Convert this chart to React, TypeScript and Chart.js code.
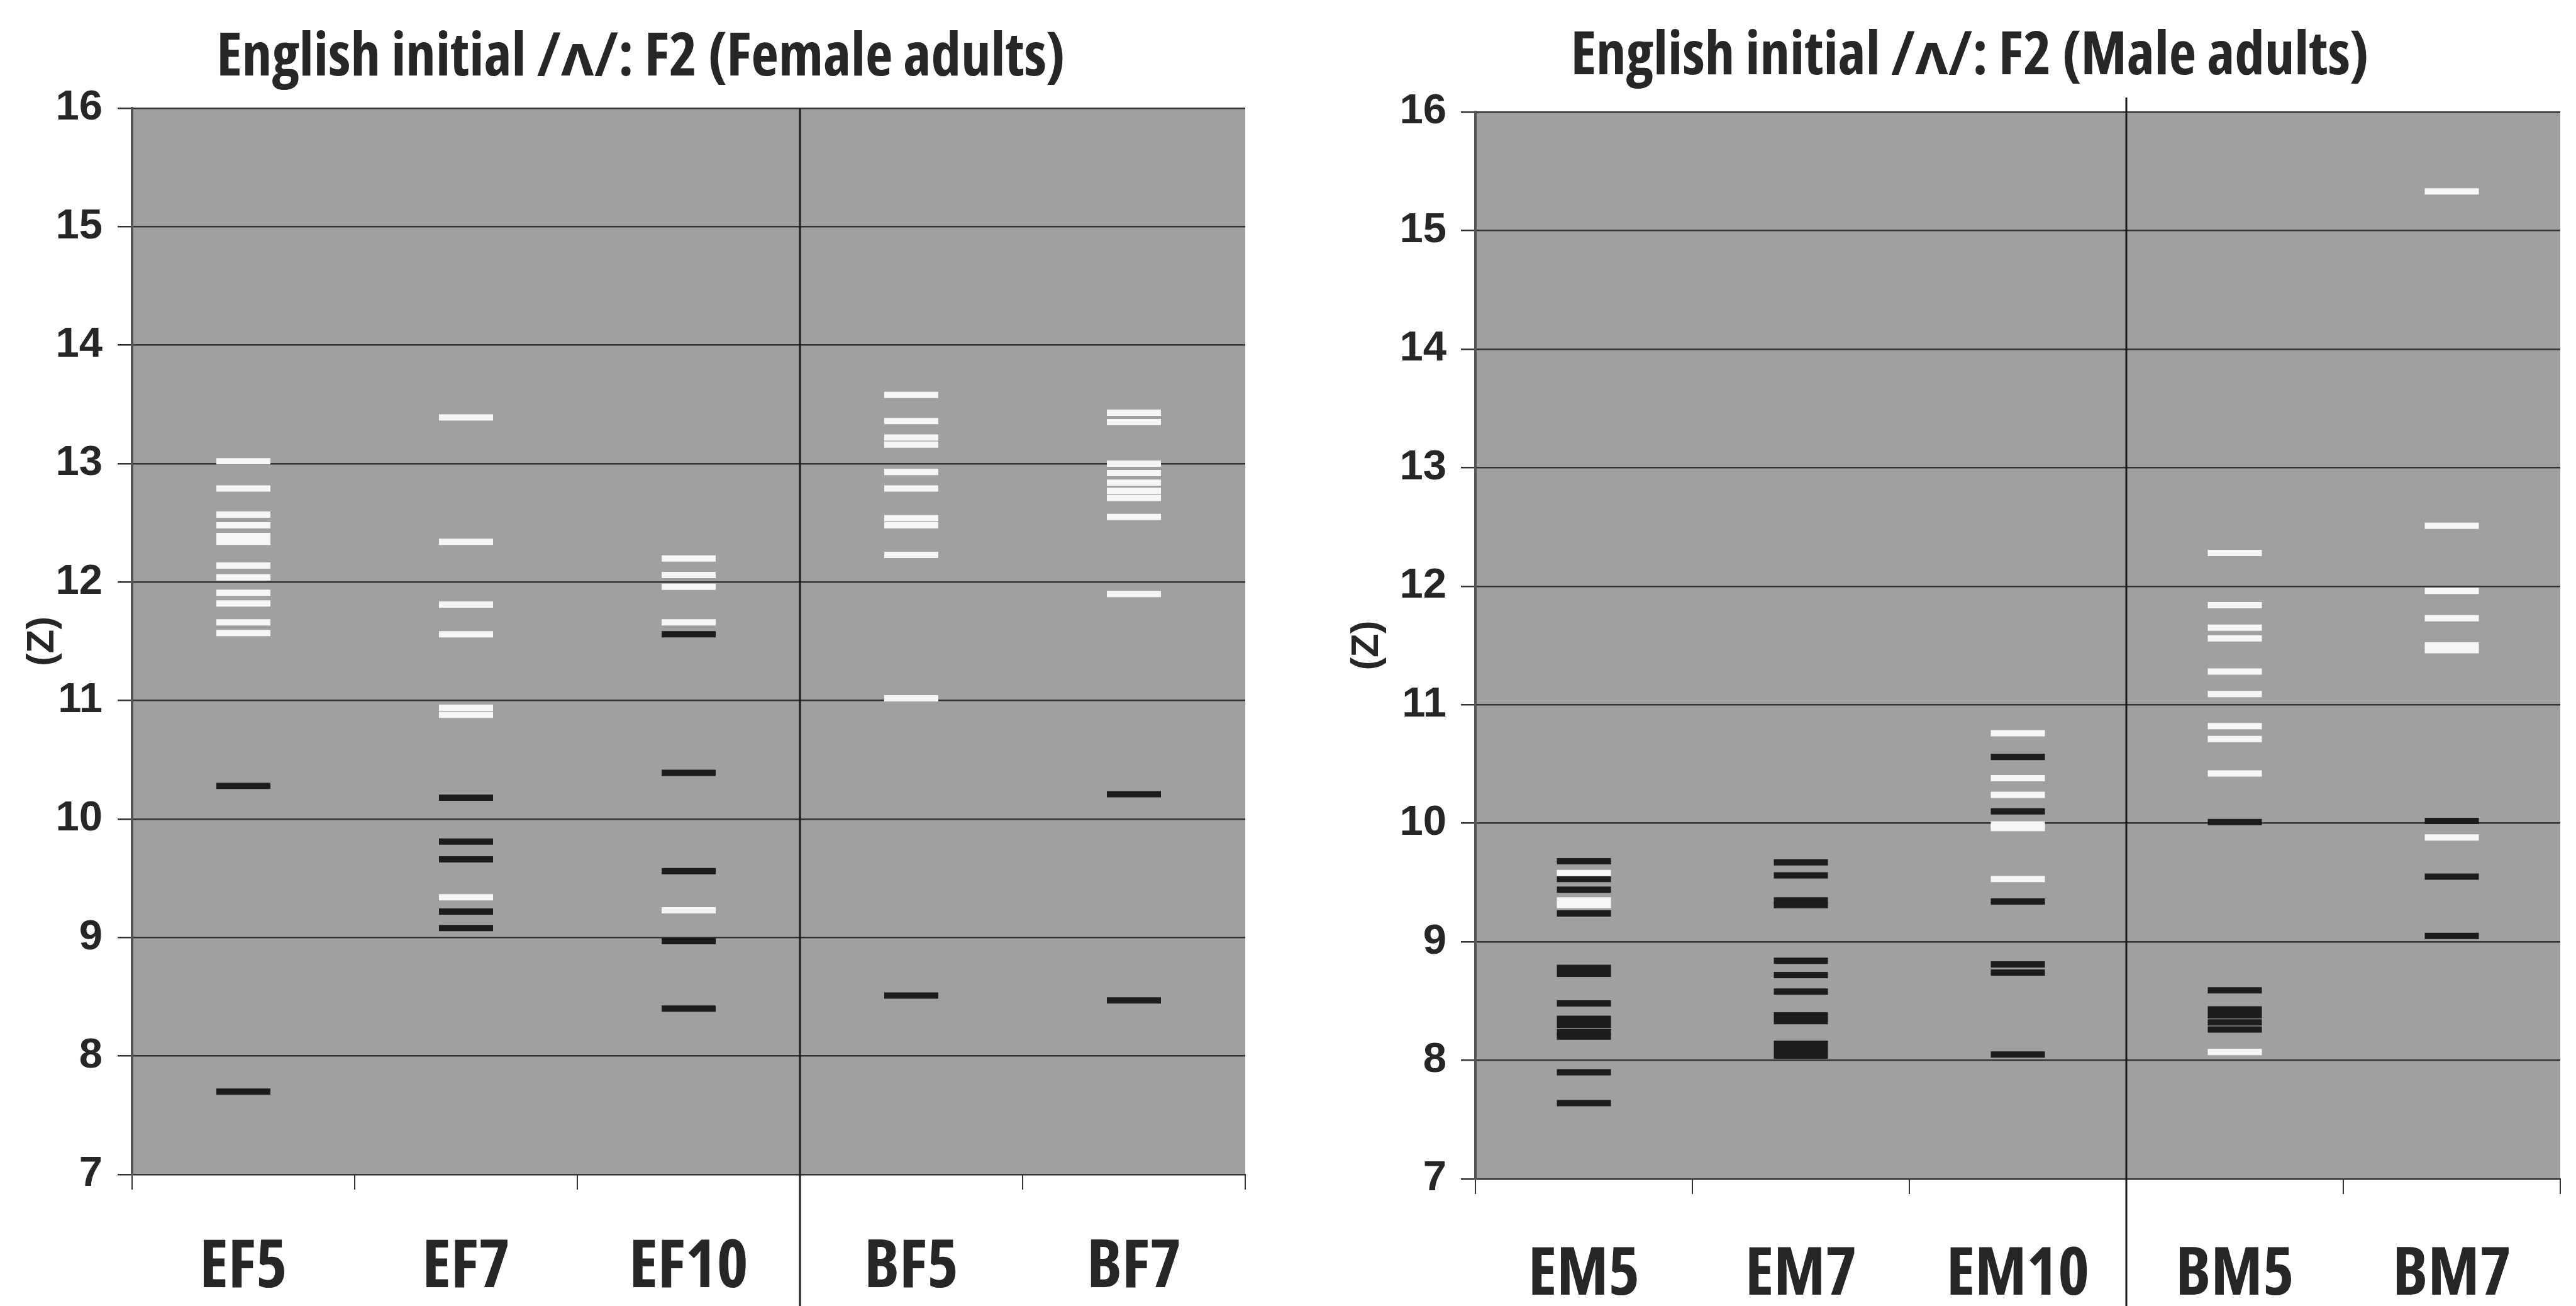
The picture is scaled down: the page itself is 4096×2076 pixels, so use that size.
import React, { useEffect, useRef } from 'react';
import { Chart, registerables } from 'chart.js';

Chart.register(...registerables);

// ---------- data ----------
const femaleCategories = ['EF5', 'EF7', 'EF10', 'BF5', 'BF7'];
const maleCategories = ['EM5', 'EM7', 'EM10', 'BM5', 'BM7'];
const yTickMin = 7;
const yTickMax = 16;

const EF5_white = [13.02, 12.79, 12.57, 12.48, 12.39, 12.34, 12.14, 12.04, 11.91, 11.82, 11.66, 11.57];
const EF5_black = [10.28, 7.7];
const EF7_white = [13.39, 12.34, 11.81, 11.56, 10.94, 10.88, 9.34];
const EF7_black = [10.18, 9.81, 9.66, 9.22, 9.08];
const EF10_white = [12.2, 12.06, 11.96, 11.66, 9.23];
const EF10_black = [11.56, 10.39, 9.56, 8.97, 8.4];
const BF5_white = [13.58, 13.36, 13.22, 13.16, 12.93, 12.79, 12.54, 12.48, 12.23, 11.02];
const BF5_black = [8.51];
const BF7_white = [13.43, 13.35, 13.0, 12.92, 12.84, 12.77, 12.71, 12.55, 11.9];
const BF7_black = [10.21, 8.47];

const EM5_white = [9.58, 9.35, 9.31];
const EM5_black = [9.68, 9.53, 9.44, 9.24, 8.78, 8.73, 8.48, 8.35, 8.3, 8.24, 8.2, 7.9, 7.64];
const EM7_white: number[] = [];
const EM7_black = [9.67, 9.56, 9.35, 9.31, 8.84, 8.72, 8.58, 8.38, 8.33, 8.14, 8.09, 8.04];
const EM10_white = [10.76, 10.38, 10.24, 9.99, 9.96, 9.53];
const EM10_black = [10.56, 10.1, 9.34, 8.81, 8.74, 8.05];
const BM5_white = [12.28, 11.84, 11.65, 11.56, 11.28, 11.09, 10.82, 10.71, 10.42, 8.07];
const BM5_black = [10.01, 8.59, 8.43, 8.38, 8.32, 8.26];
const BM7_white = [15.33, 12.51, 11.96, 11.73, 11.5, 11.46, 9.88];
const BM7_black = [10.02, 9.55, 9.05];

const femaleWhite = [EF5_white, EF7_white, EF10_white, BF5_white, BF7_white];
const femaleBlack = [EF5_black, EF7_black, EF10_black, BF5_black, BF7_black];
const maleWhite = [EM5_white, EM7_white, EM10_white, BM5_white, BM7_white];
const maleBlack = [EM5_black, EM7_black, EM10_black, BM5_black, BM7_black];

const femaleTitle = 'English initial /ʌ/: F2 (Female adults)';
const maleTitle = 'English initial /ʌ/: F2 (Male adults)';
const yAxisTitle = '(Z)';

// ---------- styles ----------
const FONT_BOLD = "'Liberation Sans', Arial, sans-serif";
const TEXT = '#262626';
const PLOT_BG = '#a0a0a0';
const GRID = '#333333';
const WHITE_DASH = '#f6f6f6';
const BLACK_DASH = '#1c1c1c';

const TITLE_WIDTH = 1354; // target rendered width of the female title
const TITLE_CAP = 67;
const XLABEL_FIT_TEXT = 'EF5EF10';
const XLABEL_FIT_WIDTH = 329; // target width of "EF5" + "EF10"
const XTICK_LEN = 24;

type FontPick = { weight: string; family: string };
const fontCandidates: FontPick[] = [
  { weight: 'bold', family: "'Liberation Sans Narrow'" },
  { weight: 'bold', family: "'Arial Narrow'" },
  { weight: 'extra-condensed bold', family: "'Noto Sans'" },
  { weight: 'condensed bold', family: "'Noto Sans'" },
  { weight: 'condensed bold', family: "'Open Sans'" },
  { weight: 'condensed bold', family: "'Roboto'" },
  { weight: 'condensed bold', family: "'DejaVu Sans'" },
  { weight: 'bold', family: "'DejaVu Sans Condensed'" },
];

type FontPlan = {
  weight: string;
  family: string;
  titleSize: number;
  titleMid: number; // distance from 'middle' baseline up to cap top
  xSize: number;
  xMid: number;
};

let cachedPlan: FontPlan | null = null;

function getFontPlan(): FontPlan {
  if (cachedPlan) return cachedPlan;
  const c = document.createElement('canvas');
  const ctx = c.getContext('2d') as CanvasRenderingContext2D;
  let best: any = null;
  for (const cand of fontCandidates) {
    ctx.font = '10px serif';
    const str = `${cand.weight} 100px ${cand.family}, monospace`;
    ctx.font = str;
    if (!ctx.font.includes('100px')) continue;
    ctx.textBaseline = 'alphabetic';
    const w = ctx.measureText(femaleTitle).width;
    const cap = ctx.measureText('E').actualBoundingBoxAscent / 100;
    ctx.font = `${cand.weight} 100px monospace`;
    const wMono = ctx.measureText(femaleTitle).width;
    if (Math.abs(w - wMono) < 0.5) continue;
    const size = (TITLE_WIDTH * 100) / w;
    const score = Math.abs(size * cap - TITLE_CAP);
    if (!best || score < best.score) best = { ...cand, score, size, str };
  }
  if (!best) {
    best = { weight: 'bold', family: "'DejaVu Sans Condensed'", size: 76 };
  }
  const fam = `${best.family}, sans-serif`;
  ctx.font = `${best.weight} ${best.size}px ${fam}`;
  ctx.textBaseline = 'middle';
  const titleMid = ctx.measureText('E').actualBoundingBoxAscent;
  ctx.font = `${best.weight} 100px ${fam}`;
  ctx.textBaseline = 'alphabetic';
  const wx = ctx.measureText(XLABEL_FIT_TEXT).width;
  const xSize = (XLABEL_FIT_WIDTH * 100) / wx;
  ctx.font = `${best.weight} ${xSize}px ${fam}`;
  ctx.textBaseline = 'middle';
  const xMid = ctx.measureText('E').actualBoundingBoxAscent;
  cachedPlan = { weight: best.weight, family: fam, titleSize: best.size, titleMid, xSize, xMid };
  return cachedPlan;
}

type Panel = {
  title: string;
  categories: string[];
  white: number[][];
  black: number[][];
  left: number;
  width: number;
  padL: number;
  padR: number;
  yAxisWidth: number;
  xAxisHeight: number;
  titleCapTop: number;
  areaTop: number;
  xCapTop: number;
  yTitlePadTop: number;
  yTickPad: number;
  dividerExtend: number;
};

const CANVAS_H = 2076;

const panels: Panel[] = [
  {
    title: femaleTitle, categories: femaleCategories, white: femaleWhite, black: femaleBlack,
    left: 0, width: 2100, padL: 58, padR: 120, yAxisWidth: 152, xAxisHeight: 209,
    titleCapTop: 52, areaTop: 172, xCapTop: 1970, yTitlePadTop: -27.2, yTickPad: 24, dividerExtend: 0,
  },
  {
    title: maleTitle, categories: maleCategories, white: maleWhite, black: maleBlack,
    left: 2130, width: 1994, padL: 36, padR: 26, yAxisWidth: 180, xAxisHeight: 202,
    titleCapTop: 50, areaTop: 178, xCapTop: 1982, yTitlePadTop: -29.2, yTickPad: 23, dividerExtend: 23,
  },
];

const decorPlugin = {
  id: 'panelDecor',
  beforeDraw(chart: any) {
    const { ctx, chartArea: a } = chart;
    ctx.save();
    ctx.fillStyle = PLOT_BG;
    ctx.fillRect(a.left, a.top, a.right - a.left, a.bottom - a.top);
    ctx.restore();
  },
  afterDatasetsDraw(chart: any, _args: any, opts: any) {
    const { ctx, chartArea: a } = chart;
    const xs = chart.scales.x;
    const px = (xs.getPixelForValue(2) + xs.getPixelForValue(3)) / 2;
    ctx.save();
    ctx.strokeStyle = '#1a1a1a';
    ctx.lineWidth = 3;
    ctx.beginPath();
    ctx.moveTo(px, a.top - (opts.dividerExtend || 0));
    ctx.lineTo(px, chart.height);
    ctx.stroke();
    ctx.restore();
  },
};

function toPoints(categories: string[], groups: number[][]) {
  const pts: { x: string; y: number }[] = [];
  categories.forEach((c, i) => groups[i].forEach((v) => pts.push({ x: c, y: v })));
  return pts;
}

function makeConfig(p: Panel, f: FontPlan): any {
  const titleLH = f.titleSize * 1.2;
  const titlePadTop = p.titleCapTop + f.titleMid - titleLH / 2;
  const titlePadBottom = p.areaTop - titleLH - titlePadTop;
  const areaBottom = CANVAS_H - p.xAxisHeight;
  const xLH = f.xSize * 1.2;
  const xTickPad = p.xCapTop + f.xMid - areaBottom - XTICK_LEN - xLH / 2;

  const dashStyle = {
    type: 'line',
    showLine: false,
    pointStyle: 'line',
    pointRadius: 43,
    pointHoverRadius: 43,
    pointBorderWidth: 10,
    pointHoverBorderWidth: 10,
  };
  return {
    type: 'line',
    data: {
      labels: p.categories,
      datasets: [
        { ...dashStyle, label: 'white', data: toPoints(p.categories, p.white), pointBorderColor: WHITE_DASH, pointBackgroundColor: WHITE_DASH, borderColor: WHITE_DASH },
        { ...dashStyle, label: 'black', data: toPoints(p.categories, p.black), pointBorderColor: BLACK_DASH, pointBackgroundColor: BLACK_DASH, borderColor: BLACK_DASH },
      ],
    },
    options: {
      responsive: false,
      animation: false,
      devicePixelRatio: 1,
      layout: { padding: { left: p.padL, right: p.padR, top: 0, bottom: 0 } },
      plugins: {
        legend: { display: false },
        tooltip: { enabled: false },
        title: {
          display: true,
          text: p.title,
          color: TEXT,
          font: { family: f.family, size: f.titleSize, weight: f.weight, lineHeight: 1.2 },
          padding: { top: titlePadTop, bottom: titlePadBottom },
        },
        panelDecor: { dividerExtend: p.dividerExtend },
      },
      scales: {
        x: {
          type: 'category',
          offset: true,
          afterFit(scale: any) { scale.height = p.xAxisHeight; },
          grid: { offset: true, drawOnChartArea: false, drawTicks: true, tickLength: XTICK_LEN, color: GRID, lineWidth: 2 },
          border: { display: true, color: GRID, width: 2 },
          ticks: { color: TEXT, padding: xTickPad, font: { family: f.family, size: f.xSize, weight: f.weight, lineHeight: 1.2 }, maxRotation: 0, autoSkip: false },
        },
        y: {
          type: 'linear',
          min: yTickMin,
          max: yTickMax,
          afterFit(scale: any) { scale.width = p.yAxisWidth; },
          grid: { color: GRID, lineWidth: 2.5, drawTicks: true, tickLength: 23 },
          border: { display: true, color: '#555555', width: 4 },
          ticks: { stepSize: 1, color: TEXT, padding: p.yTickPad, font: { family: FONT_BOLD, size: 67, weight: 'bold' } },
          title: {
            display: true,
            text: yAxisTitle,
            color: TEXT,
            font: { family: FONT_BOLD, size: 62, weight: 'bold', lineHeight: 1.2 },
            padding: { top: p.yTitlePadTop, bottom: 0 },
          },
        },
      },
    },
    plugins: [decorPlugin],
  };
}

function PanelChart({ p }: { p: Panel }) {
  const ref = useRef<HTMLCanvasElement | null>(null);
  useEffect(() => {
    if (!ref.current) return;
    const plan = getFontPlan();
    const chart = new Chart(ref.current, makeConfig(p, plan));
    return () => chart.destroy();
  }, [p]);
  return (
    <canvas
      ref={ref}
      width={p.width}
      height={CANVAS_H}
      style={{ position: 'absolute', left: p.left, top: 0, width: p.width, height: CANVAS_H }}
    />
  );
}

export default function App() {
  return (
    <div style={{ position: 'fixed', left: 0, top: 0, width: 4096, height: 2076, overflow: 'hidden', background: '#ffffff' }}>
      {panels.map((p, i) => (
        <PanelChart key={i} p={p} />
      ))}
    </div>
  );
}
